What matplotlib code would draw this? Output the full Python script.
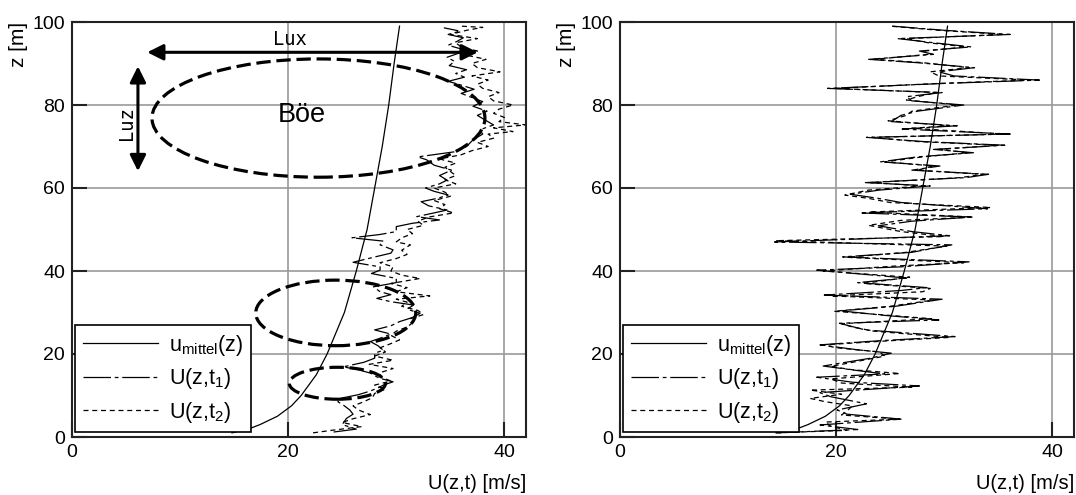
import matplotlib
matplotlib.use("Agg")
import matplotlib.pyplot as plt
from matplotlib.patches import Ellipse

plt.rcParams["font.family"] = ["Liberation Sans", "DejaVu Sans"]
plt.rcParams["mathtext.default"] = "regular"

# mean profile u_mittel(z), same in both panels
z_mean = [1, 2, 3, 5, 7.5, 10, 15, 20, 30, 40, 50, 60, 70, 80, 90, 99]
u_mean = [14.8, 16.4, 17.4, 19.0, 20.3, 21.2, 22.6, 23.6, 25.2, 26.3, 27.3, 28.0, 28.7, 29.3, 29.8, 30.3]

# left panel: correlated gust profiles
z_left_t1 = [1.2, 1.9, 3.0, 4.5, 5.5, 6.5, 7.5, 8.5, 9.3, 10.2, 11.0, 11.7, 12.5, 13.3, 14.2, 15.4,
             16.2, 16.9, 18.0, 19.0, 20.2, 20.9, 22.0, 23.0, 23.8, 24.8, 25.8, 26.8, 27.8, 28.8, 29.8,
             30.8, 31.8, 32.6, 33.4, 34.3, 35.0, 36.2, 37.2, 38.2, 39.4, 40.2, 41.0, 42.1, 43.5, 44.3,
             45.1, 46.3, 47.2, 48.0, 48.8, 49.5, 50.7, 51.5, 52.3, 53.1, 54.0, 54.7, 55.7, 56.7, 57.5,
             58.3, 59.2, 60.0, 61.0, 61.9, 63.0, 64.3, 65.5, 66.8, 67.5, 68.8, 70.0, 71.6, 73.0, 74.0,
             75.2, 76.4, 77.5, 78.5, 79.7, 80.8, 81.8, 82.8, 83.8, 84.8, 85.7, 86.7, 87.6, 88.5, 89.5,
             90.5, 91.5, 92.5, 93.5, 94.4, 95.3, 96.2, 97.0, 97.8, 98.6]
u_left_t1 = [24.2, 26.3, 25.0, 25.4, 26.0, 25.7, 25.2, 24.6, 24.8, 26.5, 27.5, 28.2, 28.8, 29.7, 28.4, 27.6,
             26.5, 25.1, 27.0, 28.0, 28.0, 28.8, 28.3, 27.6, 28.5, 29.5, 28.0, 29.5, 30.3, 31.5, 32.2,
             31.0, 31.6, 29.5, 28.2, 29.5, 28.5, 27.9, 30.0, 30.0, 27.7, 28.5, 28.5, 26.0, 28.2, 29.5,
             29.7, 28.5, 28.8, 25.9, 28.5, 30.0, 30.0, 31.5, 34.0, 31.9, 33.5, 34.7, 33.0, 32.3, 33.8,
             34.8, 33.5, 32.7, 34.0, 34.7, 34.0, 35.1, 33.5, 32.8, 32.0, 35.6, 36.5, 37.1, 38.0, 37.7,
             39.0, 38.2, 37.5, 38.4, 37.1, 38.0, 37.0, 36.0, 37.2, 36.0, 34.8, 36.3, 35.5, 36.5, 34.9,
             35.4, 34.7, 35.8, 36.0, 34.8, 35.6, 36.2, 34.8, 35.9, 34.4]

z_left_t2 = [1.0, 1.6, 2.5, 3.5, 4.4, 5.4, 6.5, 7.5, 8.5, 9.5, 10.5, 11.5, 12.5, 13.5, 14.5, 15.5, 16.5,
             17.5, 18.5, 19.5, 20.5, 21.5, 22.5, 23.4, 24.5, 25.5, 26.5, 27.5, 28.5, 29.5, 30.5, 31.5,
             32.5, 33.2, 34.0, 35.0, 36.0, 37.0, 38.2, 39.0, 40.0, 41.0, 42.0, 43.0, 44.0, 45.0, 46.3,
             47.0, 48.0, 49.0, 50.0, 51.0, 52.0, 53.0, 54.0, 55.0, 56.0, 57.0, 58.0, 59.0, 60.0, 61.0,
             62.0, 63.0, 64.0, 65.0, 66.0, 67.0, 68.0, 69.0, 70.0, 71.0, 72.0, 73.0, 73.6, 74.5, 75.2,
             76.0, 77.0, 78.0, 79.0, 80.0, 81.0, 82.0, 83.0, 84.0, 85.0, 86.0, 87.0, 88.0, 89.0, 90.0,
             91.0, 92.0, 93.0, 94.0, 95.0, 96.0, 97.0, 98.0, 98.7, 99.0]
u_left_t2 = [22.3, 24.0, 26.8, 25.0, 26.0, 27.6, 26.5, 26.0, 27.0, 27.8, 28.0, 29.0, 28.0, 29.5, 28.5, 28.5, 29.7,
             27.5, 29.7, 28.0, 29.0, 28.5, 29.5, 30.3, 29.5, 30.0, 31.0, 31.5, 31.3, 32.5, 32.0, 30.5,
             31.0, 30.0, 33.1, 30.0, 31.0, 29.5, 32.2, 30.5, 29.5, 29.7, 28.5, 30.0, 31.0, 30.5, 31.3,
             30.0, 30.5, 31.5, 31.0, 32.5, 32.0, 33.0, 35.3, 34.0, 34.5, 33.5, 35.0, 34.5, 33.5, 35.5,
             34.5, 35.5, 35.0, 34.5, 35.5, 34.0, 36.0, 37.0, 38.5, 37.5, 39.0, 38.5, 40.8, 39.0, 42.0,
             39.5, 40.0, 39.0, 39.5, 40.8, 39.0, 38.5, 39.5, 38.0, 37.5, 38.5, 37.0, 39.6, 37.5, 37.0,
             38.3, 36.5, 37.5, 36.0, 35.5, 37.5, 35.0, 36.5, 38.0, 36.0]

# right panel: uncorrelated profiles
z_right_t1 = [1.0, 1.8, 2.9, 4.3, 5.5, 6.5, 8.0, 9.7, 10.7, 12.3, 13.2, 14.4, 15.2, 16.0, 17.1, 19.0,
              20.2, 21.0, 22.2, 23.2, 24.2, 25.8, 27.4, 28.2, 29.3, 30.4, 31.5, 33.2, 34.2, 35.3, 36.0,
              37.2, 38.3, 40.2, 41.0, 42.2, 43.4, 44.5, 46.3, 47.0, 48.5, 49.5, 50.9, 52.0, 53.0, 54.0,
              55.0, 56.5, 57.5, 58.5, 59.5, 60.5, 61.3, 62.5, 63.3, 64.3, 65.3, 66.3, 67.5, 68.5, 69.3,
              70.3, 71.2, 72.2, 73.0, 74.2, 75.0, 76.0, 77.5, 78.5, 80.0, 81.0, 82.0, 83.0, 84.0, 85.2,
              86.0, 87.0, 88.0, 89.0, 90.2, 91.0, 92.2, 93.0, 94.0, 95.0, 96.0, 97.0, 98.0, 99.0]
u_right_t1 = [14.4, 22.0, 18.5, 26.0, 21.0, 20.1, 22.8, 19.5, 18.5, 27.7, 21.5, 18.2, 24.5, 22.0, 18.8, 23.2,
              25.1, 22.0, 18.5, 24.0, 31.0, 22.7, 20.3, 29.5, 24.5, 20.4, 25.5, 29.8, 18.9, 26.0, 28.4,
              22.0, 26.5, 18.2, 26.0, 32.3, 20.6, 27.0, 30.7, 14.3, 30.5, 27.0, 23.9, 27.0, 32.5, 22.2,
              34.0, 26.0, 23.9, 21.3, 24.0, 28.7, 22.7, 32.0, 34.1, 27.0, 29.6, 24.1, 27.5, 32.7, 29.0,
              35.6, 28.0, 22.8, 36.1, 26.1, 31.2, 25.1, 26.0, 27.5, 31.8, 27.0, 26.5, 29.8, 19.2, 30.0,
              38.8, 30.9, 29.5, 32.8, 27.5, 23.0, 29.0, 27.7, 32.5, 29.0, 25.7, 36.1, 30.0, 25.2]

z_right_t2 = [1.0, 1.6, 2.6, 3.6, 4.3, 5.3, 6.3, 7.5, 8.5, 9.3, 10.3, 11.3, 12.0, 13.0, 14.0, 15.3, 16.2,
              17.0, 18.5, 19.5, 20.5, 21.5, 22.2, 23.2, 24.0, 25.5, 26.5, 27.3, 28.5, 29.5, 30.3, 31.5,
              33.0, 34.0, 35.0, 35.8, 37.0, 38.5, 40.0, 41.2, 42.0, 43.3, 44.5, 46.0, 47.3, 48.3, 49.5,
              51.0, 52.2, 53.0, 54.2, 55.3, 56.5, 57.5, 58.3, 59.5, 60.5, 61.3, 62.5, 63.3, 64.3, 65.3,
              66.3, 67.5, 68.5, 69.3, 70.3, 71.2, 72.2, 73.0, 74.4, 75.0, 76.2, 77.5, 78.5, 80.0, 81.2,
              82.0, 83.0, 84.0, 85.2, 86.0, 87.0, 88.0, 89.0, 90.2, 91.0, 92.2, 93.0, 94.0, 95.0, 96.0,
              97.0, 98.0, 99.0]
u_right_t2 = [14.4, 21.0, 19.5, 19.0, 25.9, 20.5, 21.0, 21.5, 19.0, 17.6, 20.5, 17.6, 27.0, 20.5, 19.5, 25.9, 21.5,
              19.5, 22.5, 24.5, 24.0, 20.0, 18.8, 25.0, 30.5, 23.5, 21.5, 20.5, 28.8, 24.0, 19.8, 25.0,
              29.0, 19.5, 28.0, 28.7, 22.5, 26.8, 18.8, 25.5, 31.8, 21.0, 26.5, 30.2, 14.4, 30.0, 26.0,
              23.0, 26.0, 32.7, 23.0, 34.3, 25.0, 23.0, 20.8, 23.0, 28.0, 23.2, 31.5, 33.6, 27.5, 29.0,
              24.5, 28.0, 32.2, 29.5, 35.0, 27.5, 23.3, 35.5, 27.0, 30.5, 24.8, 26.5, 27.0, 31.2, 26.5,
              27.5, 29.3, 19.8, 29.5, 38.0, 29.5, 28.7, 32.3, 28.0, 23.5, 28.5, 28.2, 32.0, 28.5, 26.5,
              35.5, 29.5, 25.0]

# gust ellipses in the left panel: (centre u, centre z, width, height)
gusts = [(22.8, 76.85, 30.8, 28.5), (24.4, 29.9, 14.8, 15.8), (24.55, 12.95, 8.9, 7.7)]

labels = ["u$_{mittel}$(z)", "U(z,t$_1$)", "U(z,t$_2$)"]

fig = plt.figure(figsize=(10.76, 4.95), dpi=100)
ax1 = fig.add_axes([72 / 1076, 58 / 495, 454 / 1076, 415 / 495])
ax2 = fig.add_axes([620 / 1076, 58 / 495, 454 / 1076, 415 / 495])

panels = [(ax1, z_left_t1, u_left_t1, z_left_t2, u_left_t2),
          (ax2, z_right_t1, u_right_t1, z_right_t2, u_right_t2)]

for ax, z1, u1, z2, u2 in panels:
    ax.plot(u_mean, z_mean, color="black", lw=0.9, label=labels[0])
    ax.plot(u1, z1, color="black", lw=0.9, dashes=(22, 3, 3, 3), label=labels[1])
    ax.plot(u2, z2, color="black", lw=0.9, dashes=(4, 3), label=labels[2])
    ax.set_xlim(0, 42)
    ax.set_ylim(0, 100)
    ax.set_xticks([0, 20, 40])
    ax.set_yticks([0, 20, 40, 60, 80, 100])
    ax.grid(True, color="#999999", lw=1.2)
    ax.set_axisbelow(True)
    ax.tick_params(direction="in", length=11, width=1.5, color="#222222",
                   labelsize=14, pad=5)
    for s in ax.spines.values():
        s.set_color("#222222")
        s.set_linewidth(1.5)
    ax.text(-0.118, 1.0, "z [m]", rotation=90, ha="center", va="top",
            fontsize=15, transform=ax.transAxes)
    ax.text(1.0, -0.112, "U(z,t) [m/s]", ha="right", va="center",
            fontsize=14.5, transform=ax.transAxes)
    leg = ax.legend(loc="lower left", bbox_to_anchor=(0.007, 0.011), borderaxespad=0,
                    fontsize=15.5, handlelength=3.5, handletextpad=0.5, labelspacing=0.4,
                    fancybox=False, framealpha=1, edgecolor="black", borderpad=0.35)
    leg.get_frame().set_linewidth(1.2)

for cu, cz, w, h in gusts:
    ax1.add_patch(Ellipse((cu, cz), w, h, fill=False, color="black", lw=2.3,
                          ls=(0, (4.5, 1.8)), zorder=3))

ax1.annotate("", xy=(37.8, 92.7), xytext=(6.7, 92.7),
             arrowprops=dict(arrowstyle="<|-|>", color="black", lw=2.2, mutation_scale=24))
ax1.annotate("", xy=(6.1, 90.0), xytext=(6.1, 63.4),
             arrowprops=dict(arrowstyle="<|-|>", color="black", lw=2.2, mutation_scale=24))
ax1.text(20.2, 95.8, "Lux", ha="center", va="center", fontsize=13.5, family="DejaVu Sans Mono")
ax1.text(5.0, 75.6, "Luz", ha="center", va="center", rotation=90, fontsize=13.5,
         family="DejaVu Sans Mono")
ax1.text(21.3, 77.6, "Böe", ha="center", va="center", fontsize=19.5)

fig.savefig("out.png", dpi=100)
